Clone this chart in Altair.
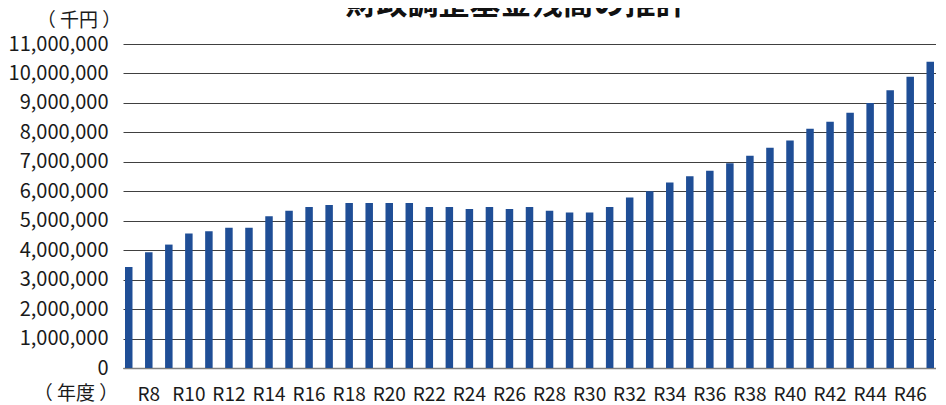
import altair as alt
import pandas as pd

years = ["R7", "R8", "R9", "R10", "R11", "R12", "R13", "R14", "R15", "R16",
         "R17", "R18", "R19", "R20", "R21", "R22", "R23", "R24", "R25", "R26",
         "R27", "R28", "R29", "R30", "R31", "R32", "R33", "R34", "R35", "R36",
         "R37", "R38", "R39", "R40", "R41", "R42", "R43", "R44", "R45", "R46",
         "R47"]
balances = [3430000, 3930000, 4190000, 4570000, 4640000, 4760000, 4760000, 5150000,
            5340000, 5470000, 5530000, 5600000, 5600000, 5600000, 5600000, 5470000,
            5470000, 5400000, 5470000, 5400000, 5470000, 5340000, 5280000, 5280000,
            5470000, 5790000, 6000000, 6300000, 6510000, 6700000, 6950000, 7210000,
            7480000, 7720000, 8120000, 8360000, 8670000, 9000000, 9430000, 9890000,
            10400000]
y_ticks = [0, 1000000, 2000000, 3000000, 4000000, 5000000, 6000000, 7000000,
           8000000, 9000000, 10000000, 11000000]
x_labels = ["R8", "R10", "R12", "R14", "R16", "R18", "R20", "R22", "R24", "R26",
            "R28", "R30", "R32", "R34", "R36", "R38", "R40", "R42", "R44", "R46"]
title_text = ["財政調整基金残高の推計"]
y_unit = ["（ 千円 ）"]
x_unit = ["（ 年度 ）"]

FONT = "Noto Sans CJK JP"
TXT = "#1a1a1a"

df = pd.DataFrame({"year": years, "balance": balances})

bars = alt.Chart(df).mark_bar(color="#1F4E96").encode(
    x=alt.X(
        "year:N", sort=years,
        scale=alt.Scale(paddingInner=0.626, paddingOuter=0.1),
        axis=alt.Axis(values=x_labels, title=None, labelAngle=0, ticks=False,
                      domain=True, domainColor="#808080", domainWidth=1.5,
                      labelPadding=26, labelBaseline="middle", labelFontSize=19,
                      labelFont=FONT, labelColor=TXT, grid=False,
                      labelOverlap=False),
    ),
    y=alt.Y(
        "balance:Q",
        scale=alt.Scale(domain=[0, 11000000], nice=False),
        axis=alt.Axis(values=y_ticks, format=",d", title=None, ticks=False,
                      domain=False, grid=True, gridColor="#404040", gridWidth=1,
                      labelPadding=15, labelFontSize=20, labelFont=FONT,
                      labelColor=TXT),
    ),
)

unit_y = alt.Chart(pd.DataFrame({"t": y_unit})).mark_text(
    font=FONT, fontSize=19, color=TXT, align="center", baseline="middle"
).encode(x=alt.value(-44), y=alt.value(-23), text="t:N")

unit_x = alt.Chart(pd.DataFrame({"t": x_unit})).mark_text(
    font=FONT, fontSize=19, color=TXT, align="center", baseline="middle"
).encode(x=alt.value(-47), y=alt.value(350), text="t:N")

title = alt.Chart(pd.DataFrame({"t": title_text})).mark_text(
    font=FONT, fontSize=31, fontWeight="bold", color="#111111",
    align="center", baseline="alphabetic"
).encode(x=alt.value(393), y=alt.value(-30), text="t:N")

chart = alt.layer(bars, unit_y, unit_x, title).properties(
    width=813, height=324,
    autosize=alt.AutoSizeParams(type="none"),
    padding={"left": 115, "top": 36, "right": 0, "bottom": 37},
).configure_view(stroke=None)

chart.save("out.html", embed_options={"renderer": "svg", "actions": False})
